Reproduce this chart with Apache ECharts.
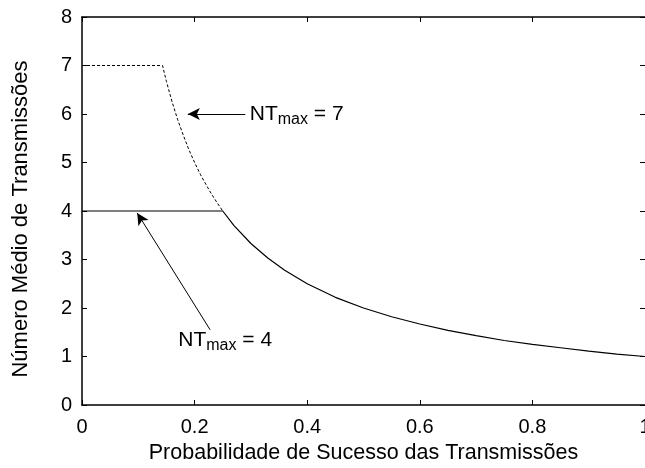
<!DOCTYPE html>
<html>
<head>
<meta charset="utf-8">
<script src="https://cdn.jsdelivr.net/npm/echarts@6/dist/echarts.min.js"></script>
<style>html,body{margin:0;padding:0;background:#fff}#c{width:645px;height:468px}</style>
</head>
<body>
<div id="c"></div>
<script>
// Data
var xTicks = [0, 0.2, 0.4, 0.6, 0.8, 1];
var yTicks = [0, 1, 2, 3, 4, 5, 6, 7, 8];
// NTmax = 4 (solid)
var nt4X = [0, 0.25, 0.27, 0.3, 0.33, 0.36, 0.4, 0.45, 0.5, 0.55, 0.6, 0.65, 0.7, 0.75, 0.8, 0.85, 0.9, 0.95, 1.0];
var nt4Y = [4, 4, 3.70, 3.33, 3.03, 2.78, 2.50, 2.22, 2.00, 1.82, 1.67, 1.54, 1.43, 1.33, 1.25, 1.18, 1.11, 1.05, 1.00];
// NTmax = 7 (dashed)
var nt7X = [0, 0.143, 0.15, 0.16, 0.17, 0.18, 0.19, 0.2, 0.21, 0.22, 0.23, 0.24, 0.25];
var nt7Y = [7, 7, 6.67, 6.25, 5.88, 5.56, 5.26, 5.00, 4.76, 4.55, 4.35, 4.17, 4.00];
// Annotations
var arrow7 = {from: [0.29, 6], to: [0.188, 6], label: [0.298, 6]};
var arrow4 = {from: [0.2276, 1.55], to: [0.098, 3.96], label: [0.171, 1.34]};

function zip(a, b) { return a.map(function (v, i) { return [v, b[i]]; }); }

var FONT = 'Liberation Sans, Arial, Helvetica, sans-serif';
var chart = echarts.init(document.getElementById('c'), null, {renderer: 'canvas'});

var rich = {
  nt: {fontSize: 21, fontFamily: FONT, color: '#000'},
  sub: {fontSize: 16, fontFamily: FONT, color: '#000', padding: [12, 0, 0, 0]}
};

function axisCommon() {
  return {
    axisLine: {show: true, onZero: false, lineStyle: {color: '#000', width: 1.5}},
    axisTick: {show: true, inside: true, length: 5, lineStyle: {color: '#000', width: 1}},
    splitLine: {show: false}
  };
}

chart.setOption({
  animation: false,
  backgroundColor: '#fff',
  grid: {left: 82, right: 0, top: 17, bottom: 63, containLabel: false, outerBoundsMode: 'none'},
  xAxis: [
    Object.assign(axisCommon(), {
      type: 'value', min: 0, max: 1, interval: 0.2, position: 'bottom',
      name: 'Probabilidade de Sucesso das Transmissões', nameLocation: 'middle', nameGap: 48,
      nameTextStyle: {fontSize: 21.5, fontFamily: FONT, color: '#000', verticalAlign: 'middle'},
      axisLabel: {fontSize: 20, fontFamily: FONT, color: '#000', margin: 12,
        formatter: function (v) { return String(+v.toFixed(1)); }}
    }),
    Object.assign(axisCommon(), {
      type: 'value', min: 0, max: 1, interval: 0.2, position: 'top',
      axisLabel: {show: false}
    })
  ],
  yAxis: [
    Object.assign(axisCommon(), {
      type: 'value', min: 0, max: 8, interval: 1, position: 'left',
      name: 'Número Médio de Transmissões', nameLocation: 'middle', nameGap: 61, nameRotate: 90,
      nameTextStyle: {fontSize: 22, fontFamily: FONT, color: '#000', verticalAlign: 'middle',
        padding: [0, 16, 0, 0]},
      axisLabel: {fontSize: 20, fontFamily: FONT, color: '#000', margin: 10}
    }),
    Object.assign(axisCommon(), {
      type: 'value', min: 0, max: 8, interval: 1, position: 'right',
      axisLabel: {show: false},
      axisLine: {show: false, onZero: false}
    })
  ],
  series: [
    {
      type: 'line', xAxisIndex: 0, yAxisIndex: 0, data: zip(nt7X, nt7Y),
      showSymbol: false, symbol: 'none',
      lineStyle: {color: '#000', width: 1, type: [3, 2]},
      markLine: {
        silent: true, symbol: ['none', 'arrow'], symbolSize: [9, 12],
        lineStyle: {color: '#000', width: 1, type: 'solid'},
        label: {show: false},
        data: [[{coord: arrow7.from}, {coord: arrow7.to}]]
      },
      markPoint: {
        silent: true, symbol: 'circle', symbolSize: 0,
        data: [{coord: arrow7.label, label: {show: true, position: 'right', distance: 0,
          formatter: '{nt|NT}{sub|max}{nt| = 7}', rich: rich}}]
      }
    },
    {
      type: 'line', xAxisIndex: 0, yAxisIndex: 0, data: zip(nt4X, nt4Y),
      showSymbol: false, symbol: 'none',
      lineStyle: {color: '#000', width: 1.2},
      markLine: {
        silent: true, symbol: ['none', 'arrow'], symbolSize: [9, 12],
        lineStyle: {color: '#000', width: 1, type: 'solid'},
        label: {show: false},
        data: [[{coord: arrow4.from}, {coord: arrow4.to}]]
      },
      markPoint: {
        silent: true, symbol: 'circle', symbolSize: 0,
        data: [{coord: arrow4.label, label: {show: true, position: 'right', distance: 0,
          formatter: '{nt|NT}{sub|max}{nt| = 4}', rich: rich}}]
      }
    }
  ]
});
</script>
</body>
</html>
